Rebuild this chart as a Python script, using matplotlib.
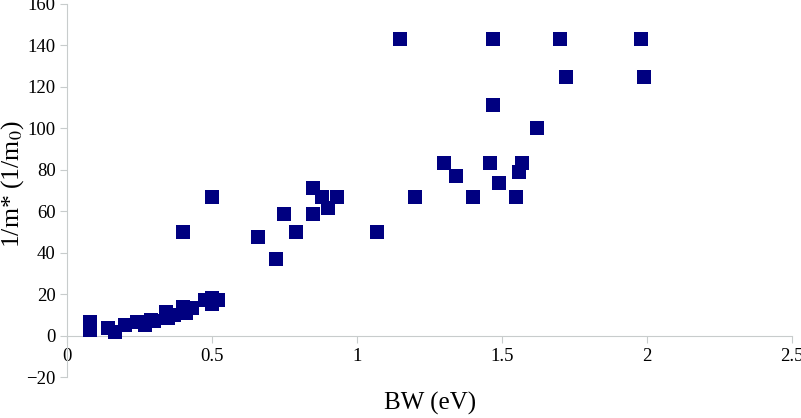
import matplotlib.pyplot as plt

# band width (eV) vs inverse effective mass
bw = [0.08, 0.08, 0.14, 0.165, 0.20, 0.24, 0.27, 0.29, 0.30, 0.34, 0.35, 0.37,
      0.40, 0.41, 0.43, 0.475, 0.50, 0.50, 0.52,
      0.40, 0.50, 0.66, 0.72, 0.75, 0.79, 0.85, 0.85, 0.88, 0.90, 0.93,
      1.07, 1.15, 1.20, 1.30, 1.34, 1.40, 1.46, 1.47, 1.47, 1.49, 1.55,
      1.56, 1.57, 1.62, 1.70, 1.72, 1.98, 1.99]
inv_mass = [6.5, 2.5, 3.5, 1.5, 5.0, 6.5, 5.0, 7.5, 7.0, 11.5, 8.5, 10.0,
            14.0, 11.0, 13.5, 17.0, 18.0, 15.0, 17.0,
            50.0, 66.7, 47.6, 37.0, 58.8, 50.0, 71.4, 58.8, 66.7, 61.5, 66.7,
            50.0, 142.9, 66.7, 83.3, 76.9, 66.7, 83.3, 142.9, 111.1, 73.5, 66.7,
            78.9, 83.3, 100.0, 142.9, 125.0, 142.9, 125.0]

xticks = [0, 0.5, 1, 1.5, 2, 2.5]
xticklabels = ["0", "0.5", "1", "1.5", "2", "2.5"]
yticks = [-20, 0, 20, 40, 60, 80, 100, 120, 140, 160]

plt.rcParams['font.family'] = ['Liberation Serif', 'DejaVu Serif']
plt.rcParams['mathtext.fontset'] = 'stix'

fig = plt.figure(figsize=(8.01, 4.18), dpi=100)
ax = fig.add_axes([0.0836, 0.098, 0.905, 0.8925])

ax.scatter(bw, inv_mass, marker='s', s=88, color='#000080', linewidths=0, zorder=3)

ax.set_xlim(0, 2.5)
ax.set_ylim(-20, 160)
ax.set_xticks(xticks)
ax.set_xticklabels(xticklabels)
ax.set_yticks(yticks)

ax.spines['top'].set_visible(False)
ax.spines['right'].set_visible(False)
ax.spines['bottom'].set_position(('data', 0))
for s in ['left', 'bottom']:
    ax.spines[s].set_color('#c8cccc')
    ax.spines[s].set_linewidth(0.8)
ax.tick_params(axis='both', colors='#c8cccc', labelcolor='black', labelsize=13.5,
               length=5, width=0.8)
ax.tick_params(axis='x', pad=4)
ax.tick_params(axis='y', pad=3)

fig.text(0.537, 0.035, "BW (eV)", ha='center', va='center', fontsize=18)
fig.text(0.016, 0.56, r"1/m* (1/m$_0$)", ha='center', va='center',
         rotation=90, fontsize=18.5)

fig.savefig("out.png", dpi=100)
